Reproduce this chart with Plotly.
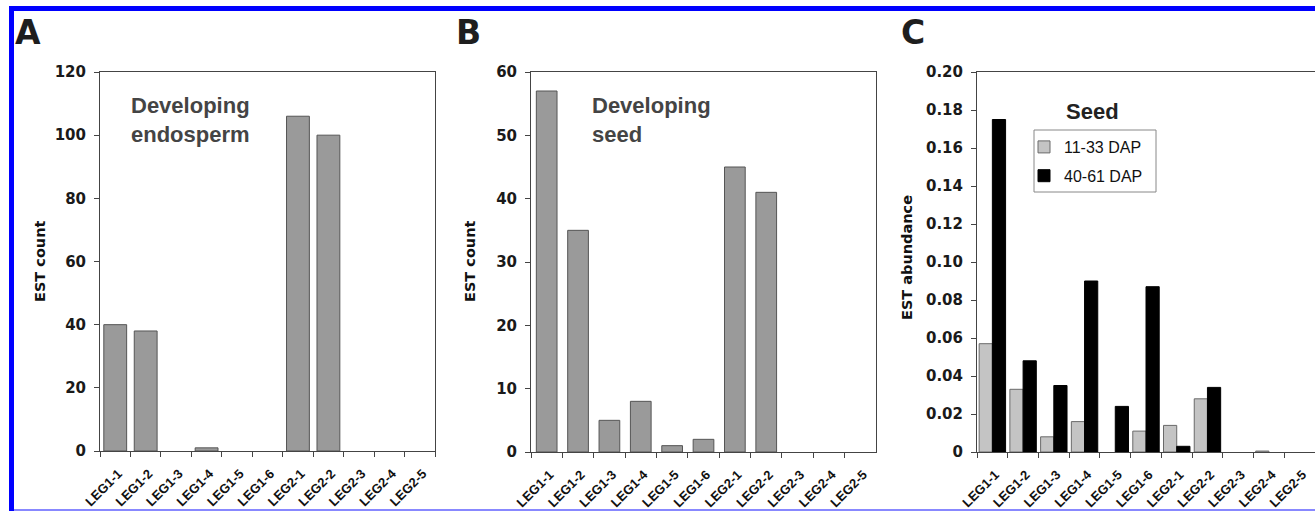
import plotly.graph_objects as go

categories = ["LEG1-1", "LEG1-2", "LEG1-3", "LEG1-4", "LEG1-5", "LEG1-6",
              "LEG2-1", "LEG2-2", "LEG2-3", "LEG2-4", "LEG2-5"]
endosperm_counts = [40, 38, 0, 1, 0, 0, 106, 100, 0, 0, 0]
seed_counts = [57, 35, 5, 8, 1, 2, 45, 41, 0, 0, 0]
seed_early = [0.057, 0.033, 0.008, 0.016, 0.0, 0.011, 0.014, 0.028, 0.0, 0.0005, 0.0]
seed_late = [0.175, 0.048, 0.035, 0.090, 0.024, 0.087, 0.003, 0.034, 0.0, 0.0, 0.0]

ticks_a = [0, 20, 40, 60, 80, 100, 120]
ticks_b = [0, 10, 20, 30, 40, 50, 60]
ticks_c = [0, 0.02, 0.04, 0.06, 0.08, 0.10, 0.12, 0.14, 0.16, 0.18, 0.20]
ticks_c_text = ["0", "0.02", "0.04", "0.06", "0.08", "0.10", "0.12", "0.14", "0.16", "0.18", "0.20"]

W, H = 1315, 511
def px(x):
    return x / W
def py(y):
    return 1 - y / H

def nz(vals):
    # zero-height bars are not drawn in the reference
    return [v if v else None for v in vals]

fig = go.Figure()

fig.add_trace(go.Bar(x=categories, y=nz(endosperm_counts), xaxis="x", yaxis="y",
                     marker=dict(color="#9a9a9a", line=dict(color="#555555", width=1)),
                     showlegend=False, width=0.75))
fig.add_trace(go.Bar(x=categories, y=nz(seed_counts), xaxis="x2", yaxis="y2",
                     marker=dict(color="#9a9a9a", line=dict(color="#555555", width=1)),
                     showlegend=False, width=0.66))
fig.add_trace(go.Bar(x=categories, y=nz(seed_early), xaxis="x3", yaxis="y3", name="11-33 DAP",
                     legendgroup="a", width=0.43, offset=-0.43,
                     marker=dict(color="#c4c4c4", line=dict(color="#6a6a6a", width=1))))
fig.add_trace(go.Bar(x=categories, y=nz(seed_late), xaxis="x3", yaxis="y3", name="40-61 DAP",
                     legendgroup="b", width=0.43, offset=0.0,
                     marker=dict(color="#000000", line=dict(color="#000000", width=1))))

tickfont = dict(family="DejaVu Sans", size=15, color="#1a1a1a", weight="bold")
xtickfont = dict(family="Liberation Sans", size=13, color="#111111", weight="bold")
axcol = "#444444"

def xax(domain, anchor, mirror=True):
    return dict(domain=domain, anchor=anchor, type="category", range=[-0.5, 10.5],
                showline=True, linecolor=axcol, linewidth=1, mirror=mirror,
                ticks="outside", ticklen=5, tickcolor=axcol, tickson="boundaries",
                tickangle=-45, tickfont=xtickfont, showgrid=False, zeroline=False,
                ticklabelstandoff=9, ticklabelshift=3,
                automargin=False, fixedrange=True)

def yax(domain, anchor, rng, vals, text=None, mirror=True):
    d = dict(domain=domain, anchor=anchor, range=rng, showline=True, linecolor=axcol,
             linewidth=1, mirror=mirror, ticks="outside", ticklen=5, tickcolor=axcol,
             tickvals=vals, tickfont=tickfont, showgrid=False, zeroline=False,
             ticklabelstandoff=5, automargin=False, fixedrange=True)
    if text is not None:
        d["ticktext"] = text
    return d

yd_top = py(72)
fig.update_layout(
    template="none",
    width=W, height=H,
    margin=dict(l=0, r=0, t=0, b=0, pad=0, autoexpand=False),
    paper_bgcolor="white", plot_bgcolor="white",
    barmode="overlay",
    xaxis=xax([px(100), px(435)], "y"),
    yaxis=yax([py(451), yd_top], "x", [0, 120], ticks_a),
    xaxis2=xax([px(531), px(876)], "y2"),
    yaxis2=yax([py(452), yd_top], "x2", [0, 60], ticks_b),
    xaxis3=xax([px(977), 1.0], "y3"),
    yaxis3=yax([py(452), yd_top], "x3", [0, 0.2], ticks_c, ticks_c_text, mirror=False),
    legend=dict(x=px(1024), y=py(130), xanchor="left", yanchor="top",
                borderwidth=0, bgcolor="rgba(0,0,0,0)",
                font=dict(family="Liberation Sans", size=16, color="#111111"),
                itemwidth=30, traceorder="grouped", tracegroupgap=5),
    showlegend=True,
)

ann = []
for letter, x in [("A", 13), ("B", 454), ("C", 899)]:
    ann.append(dict(text=letter, x=px(x), y=py(32), xref="paper", yref="paper",
                    xanchor="left", yanchor="middle", showarrow=False,
                    font=dict(family="DejaVu Sans", size=33, color="#1e1e1e", weight="bold")))

for txt, x in [("Developing<br>endosperm", 129), ("Developing<br>seed", 590)]:
    ann.append(dict(text=txt, x=px(x), y=py(120), xref="paper", yref="paper",
                    xanchor="left", yanchor="middle", align="left", showarrow=False,
                    font=dict(family="Liberation Sans", size=22, color="#444444", weight="bold")))

ann.append(dict(text="Seed", x=px(1092), y=py(111), xref="paper", yref="paper",
                xanchor="center", yanchor="middle", showarrow=False,
                font=dict(family="Liberation Sans", size=22, color="#222222", weight="bold")))

for txt, x, y in [("EST count", 40, 262), ("EST count", 470, 262), ("EST abundance", 907, 258)]:
    ann.append(dict(text=txt, x=px(x), y=py(y), xref="paper", yref="paper",
                    xanchor="center", yanchor="middle", textangle=-90, showarrow=False,
                    font=dict(family="DejaVu Sans", size=14.5, color="#111111", weight="bold")))

fig.update_layout(annotations=ann)

shapes = [
    # legend frame
    dict(type="rect", xref="paper", yref="paper", x0=px(1034), x1=px(1156), y0=py(192), y1=py(130),
         fillcolor="white", line=dict(color="#888888", width=1), layer="above"),
    # blue page frame
    dict(type="rect", xref="paper", yref="paper", x0=px(9), x1=px(14), y0=0, y1=py(6),
         fillcolor="#0000ff", line=dict(width=0), layer="above"),
    dict(type="rect", xref="paper", yref="paper", x0=px(9), x1=1, y0=py(11), y1=py(6),
         fillcolor="#0000ff", line=dict(width=0), layer="above"),
    dict(type="rect", xref="paper", yref="paper", x0=px(14), x1=1, y0=py(511), y1=py(509),
         fillcolor="#8888ff", line=dict(width=0), layer="above"),
]
fig.update_layout(shapes=shapes)

fig.write_html("out.html", config={"displayModeBar": False},
               post_script="document.body.style.margin='0';document.body.style.overflow='hidden';")
